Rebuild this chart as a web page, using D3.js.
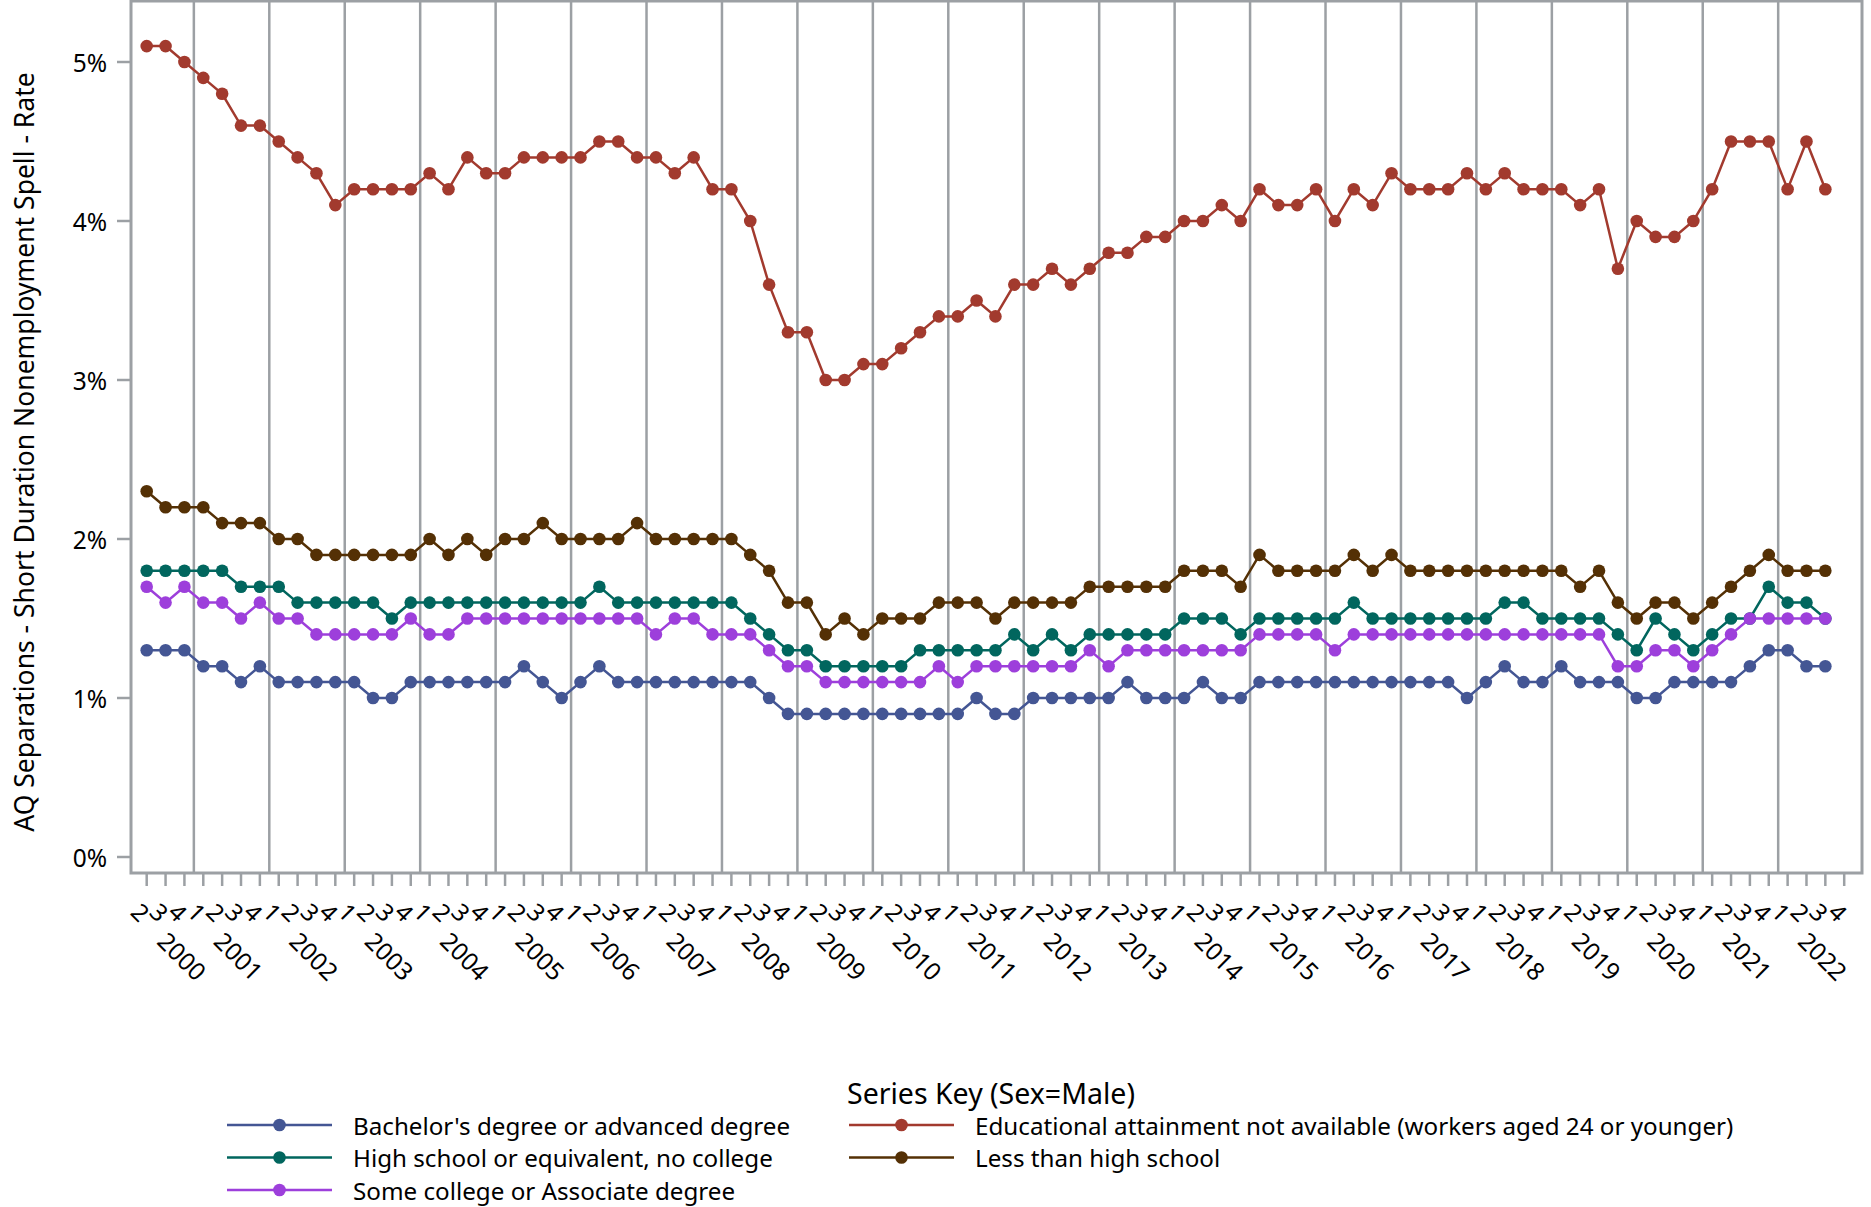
<!DOCTYPE html>
<html><head><meta charset="utf-8">
<script src="https://cdn.jsdelivr.net/npm/d3@7"></script>
<style>
body{margin:0;background:#fff;}
svg{display:block;}
text{font-family:"Noto Sans",sans-serif;fill:#000;}
</style>
</head><body>
<svg id="chart" width="1871" height="1207"></svg>
<script>
// ---------- data ----------
const years = d3.range(2000, 2023);
const firstQuarter = 2;          // series starts 2000 Q2
const axisLastQuarter = 4;       // axis runs to 2022 Q4
const yTicks = [0, 1, 2, 3, 4, 5];
const yTitle = "AQ Separations - Short Duration Nonemployment Spell - Rate";
const legendTitle = "Series Key (Sex=Male)";

const seriesNames = [
  "Bachelor's degree or advanced degree",
  "Educational attainment not available (workers aged 24 or younger)",
  "High school or equivalent, no college",
  "Less than high school",
  "Some college or Associate degree"
];
const seriesColors = ["#445694", "#a23a2e", "#01665e", "#543005", "#9d3fdb"];

const bachelors = [1.3,1.3,1.3, 1.2,1.2,1.1,1.2, 1.1,1.1,1.1,1.1, 1.1,1.0,1.0,1.1, 1.1,1.1,1.1,1.1,
  1.1,1.2,1.1,1.0, 1.1,1.2,1.1,1.1, 1.1,1.1,1.1,1.1, 1.1,1.1,1.0,0.9, 0.9,0.9,0.9,0.9,
  0.9,0.9,0.9,0.9, 0.9,1.0,0.9,0.9, 1.0,1.0,1.0,1.0, 1.0,1.1,1.0,1.0, 1.0,1.1,1.0,1.0,
  1.1,1.1,1.1,1.1, 1.1,1.1,1.1,1.1, 1.1,1.1,1.1,1.0, 1.1,1.2,1.1,1.1, 1.2,1.1,1.1,1.1,
  1.0,1.0,1.1,1.1, 1.1,1.1,1.2,1.3, 1.3,1.2,1.2];
const notAvailable = [5.1,5.1,5.0, 4.9,4.8,4.6,4.6, 4.5,4.4,4.3,4.1, 4.2,4.2,4.2,4.2, 4.3,4.2,4.4,4.3,
  4.3,4.4,4.4,4.4, 4.4,4.5,4.5,4.4, 4.4,4.3,4.4,4.2, 4.2,4.0,3.6,3.3, 3.3,3.0,3.0,3.1,
  3.1,3.2,3.3,3.4, 3.4,3.5,3.4,3.6, 3.6,3.7,3.6,3.7, 3.8,3.8,3.9,3.9, 4.0,4.0,4.1,4.0,
  4.2,4.1,4.1,4.2, 4.0,4.2,4.1,4.3, 4.2,4.2,4.2,4.3, 4.2,4.3,4.2,4.2, 4.2,4.1,4.2,3.7,
  4.0,3.9,3.9,4.0, 4.2,4.5,4.5,4.5, 4.2,4.5,4.2];
const highSchool = [1.8,1.8,1.8, 1.8,1.8,1.7,1.7, 1.7,1.6,1.6,1.6, 1.6,1.6,1.5,1.6, 1.6,1.6,1.6,1.6,
  1.6,1.6,1.6,1.6, 1.6,1.7,1.6,1.6, 1.6,1.6,1.6,1.6, 1.6,1.5,1.4,1.3, 1.3,1.2,1.2,1.2,
  1.2,1.2,1.3,1.3, 1.3,1.3,1.3,1.4, 1.3,1.4,1.3,1.4, 1.4,1.4,1.4,1.4, 1.5,1.5,1.5,1.4,
  1.5,1.5,1.5,1.5, 1.5,1.6,1.5,1.5, 1.5,1.5,1.5,1.5, 1.5,1.6,1.6,1.5, 1.5,1.5,1.5,1.4,
  1.3,1.5,1.4,1.3, 1.4,1.5,1.5,1.7, 1.6,1.6,1.5];
const lessThanHS = [2.3,2.2,2.2, 2.2,2.1,2.1,2.1, 2.0,2.0,1.9,1.9, 1.9,1.9,1.9,1.9, 2.0,1.9,2.0,1.9,
  2.0,2.0,2.1,2.0, 2.0,2.0,2.0,2.1, 2.0,2.0,2.0,2.0, 2.0,1.9,1.8,1.6, 1.6,1.4,1.5,1.4,
  1.5,1.5,1.5,1.6, 1.6,1.6,1.5,1.6, 1.6,1.6,1.6,1.7, 1.7,1.7,1.7,1.7, 1.8,1.8,1.8,1.7,
  1.9,1.8,1.8,1.8, 1.8,1.9,1.8,1.9, 1.8,1.8,1.8,1.8, 1.8,1.8,1.8,1.8, 1.8,1.7,1.8,1.6,
  1.5,1.6,1.6,1.5, 1.6,1.7,1.8,1.9, 1.8,1.8,1.8];
const someCollege = [1.7,1.6,1.7, 1.6,1.6,1.5,1.6, 1.5,1.5,1.4,1.4, 1.4,1.4,1.4,1.5, 1.4,1.4,1.5,1.5,
  1.5,1.5,1.5,1.5, 1.5,1.5,1.5,1.5, 1.4,1.5,1.5,1.4, 1.4,1.4,1.3,1.2, 1.2,1.1,1.1,1.1,
  1.1,1.1,1.1,1.2, 1.1,1.2,1.2,1.2, 1.2,1.2,1.2,1.3, 1.2,1.3,1.3,1.3, 1.3,1.3,1.3,1.3,
  1.4,1.4,1.4,1.4, 1.3,1.4,1.4,1.4, 1.4,1.4,1.4,1.4, 1.4,1.4,1.4,1.4, 1.4,1.4,1.4,1.2,
  1.2,1.3,1.3,1.2, 1.3,1.4,1.5,1.5, 1.5,1.5,1.5];
const seriesValues = [bachelors, notAvailable, highSchool, lessThanHS, someCollege];

// ---------- axis slots ----------
const slots = [];
years.forEach(y => {
  for (let q = 1; q <= 4; q++) {
    if (y === years[0] && q < firstQuarter) continue;
    if (y === years[years.length-1] && q > axisLastQuarter) continue;
    slots.push({year: y, q: q, key: y + "Q" + q});
  }
});

const svg = d3.select("#chart");
const frame = {left: 131, top: 1, right: 1862, bottom: 873};
const gray = "#9ca0a4";

const x = d3.scalePoint().domain(slots.map(d => d.key)).range([146.7, 1844.2]);
const y = d3.scaleLinear().domain([0, 5]).range([857, 62]);
const step = x.step();

// gridlines at year boundaries
const boundaries = slots.filter((d, i) => d.q === 4 && i < slots.length - 1);
svg.append("g").selectAll("line").data(boundaries).join("line")
  .attr("x1", d => x(d.key) + step / 2).attr("x2", d => x(d.key) + step / 2)
  .attr("y1", frame.top).attr("y2", frame.bottom)
  .attr("stroke", gray).attr("stroke-width", 2.5);

// frame
svg.append("rect")
  .attr("x", frame.left).attr("y", frame.top)
  .attr("width", frame.right - frame.left).attr("height", frame.bottom - frame.top)
  .attr("fill", "none").attr("stroke", gray).attr("stroke-width", 3);

// y axis
const yAxis = svg.append("g");
yAxis.selectAll("line").data(yTicks).join("line")
  .attr("x1", frame.left - 14).attr("x2", frame.left)
  .attr("y1", d => y(d)).attr("y2", d => y(d))
  .attr("stroke", gray).attr("stroke-width", 2.5);
yAxis.selectAll("text").data(yTicks).join("text")
  .attr("x", frame.left - 24).attr("y", d => y(d))
  .attr("text-anchor", "end").attr("dominant-baseline", "central")
  .style("font-size", "24.5px")
  .text(d => d + "%");
svg.append("text")
  .attr("transform", "translate(24,452) rotate(-90)")
  .attr("text-anchor", "middle").attr("dominant-baseline", "central")
  .style("font-size", "26.5px")
  .text(yTitle);

// x axis ticks
const xAxis = svg.append("g");
xAxis.selectAll("line").data(slots).join("line")
  .attr("x1", d => x(d.key)).attr("x2", d => x(d.key))
  .attr("y1", frame.bottom).attr("y2", frame.bottom + 13)
  .attr("stroke", gray).attr("stroke-width", 2.5);
xAxis.selectAll("text.q").data(slots).join("text").attr("class", "q")
  .attr("transform", d => `translate(${x(d.key) - 6},912) rotate(45)`)
  .attr("text-anchor", "middle").attr("dominant-baseline", "central")
  .style("font-size", "24px")
  .text(d => d.q);
const yearFirst = years.map(yr => slots.find(s => s.year === yr));
xAxis.selectAll("text.yr").data(yearFirst).join("text").attr("class", "yr")
  .attr("transform", d => `translate(${x(d.key) + 35.5},956) rotate(45)`)
  .attr("text-anchor", "middle").attr("dominant-baseline", "central")
  .style("font-size", "24.5px")
  .text(d => d.year);

// series
const line = d3.line().x(d => x(d.key)).y(d => y(d.v));
seriesNames.forEach((name, si) => {
  const pts = seriesValues[si].map((v, i) => ({key: slots[i].key, v: v}));
  const g = svg.append("g");
  g.append("path").datum(pts).attr("d", line)
    .attr("fill", "none").attr("stroke", seriesColors[si]).attr("stroke-width", 2.5);
  g.selectAll("circle").data(pts).join("circle")
    .attr("cx", d => x(d.key)).attr("cy", d => y(d.v)).attr("r", 6.3)
    .attr("fill", seriesColors[si]);
});

// legend
svg.append("text").attr("x", 847).attr("y", 1093)
  .attr("dominant-baseline", "central").style("font-size", "28.5px")
  .text(legendTitle);
const colX = [227, 849], rowY = [1125, 1157.5, 1190];
seriesNames.forEach((name, i) => {
  const cx = colX[i % 2], cy = rowY[Math.floor(i / 2)];
  const g = svg.append("g");
  g.append("line").attr("x1", cx).attr("x2", cx + 105).attr("y1", cy).attr("y2", cy)
    .attr("stroke", seriesColors[i]).attr("stroke-width", 2.5);
  g.append("circle").attr("cx", cx + 52.5).attr("cy", cy).attr("r", 6.3).attr("fill", seriesColors[i]);
  g.append("text").attr("x", cx + 126).attr("y", cy)
    .attr("dominant-baseline", "central").style("font-size", "24.2px")
    .text(name);
});
</script>
</body></html>
